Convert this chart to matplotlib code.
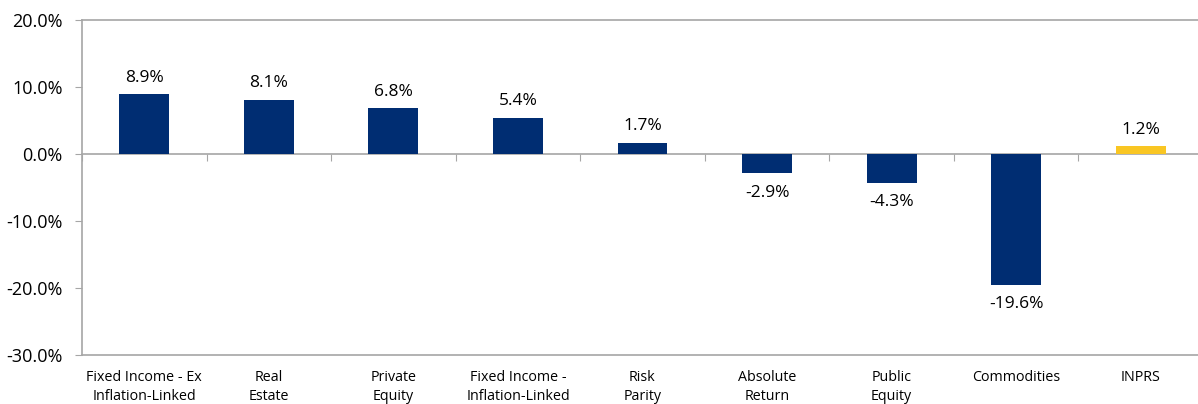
import numpy as np
import matplotlib
matplotlib.use("Agg")
import matplotlib.pyplot as plt
from matplotlib.ticker import FuncFormatter

categories = ["Fixed Income - Ex\nInflation-Linked", "Real\nEstate", "Private\nEquity",
              "Fixed Income -\nInflation-Linked", "Risk\nParity", "Absolute\nReturn",
              "Public\nEquity", "Commodities", "INPRS"]
returns = [8.9, 8.1, 6.8, 5.4, 1.7, -2.9, -4.3, -19.6, 1.2]
highlight = "INPRS"

navy = "#002D72"
gold = "#F9C623"
grey = "#A6A6A6"

plt.rcParams["font.family"] = ["Open Sans", "DejaVu Sans"]

fig = plt.figure(figsize=(11.98, 4.04), dpi=100)
ax = fig.add_axes([82 / 1198, 49 / 404, 1121 / 1198, 335 / 404])

x = np.arange(len(categories))
colors = [gold if c == highlight else navy for c in categories]
ax.bar(x, returns, width=0.4, color=colors, zorder=3)

# value labels
for xi, v in zip(x, returns):
    if v >= 0:
        ax.annotate(f"{v:.1f}%", (xi, v), xytext=(0, 6), textcoords="offset points",
                    ha="center", va="bottom", fontsize=12.5)
    else:
        ax.annotate(f"{v:.1f}%", (xi, v), xytext=(0, -8), textcoords="offset points",
                    ha="center", va="top", fontsize=12.5)

ax.set_xlim(-0.5, len(categories) - 0.5)
ax.set_ylim(-30, 20)
ax.set_yticks(np.arange(-30, 21, 10))
ax.yaxis.set_major_formatter(FuncFormatter(lambda v, p: f"{v:.1f}%"))
ax.tick_params(axis="y", length=5, color=grey, labelsize=13, pad=9)

# zero line with category separators
ax.spines["bottom"].set_position(("data", 0))
ax.set_xticks(np.arange(len(categories) + 1) - 0.5)
ax.tick_params(axis="x", length=5, color=grey, labelbottom=False)
ax.spines["right"].set_visible(False)
for s in ["bottom", "top", "left"]:
    ax.spines[s].set_color(grey)
    ax.spines[s].set_linewidth(1.2)

# category labels along the bottom border
sec = ax.secondary_xaxis(0.0)
sec.set_xticks(x)
sec.set_xticklabels(categories, fontsize=10.3, linespacing=1.35)
sec.tick_params(length=0, pad=11)
sec.spines["bottom"].set_color(grey)
sec.spines["bottom"].set_linewidth(1.2)

fig.savefig("out.png", dpi=100)
